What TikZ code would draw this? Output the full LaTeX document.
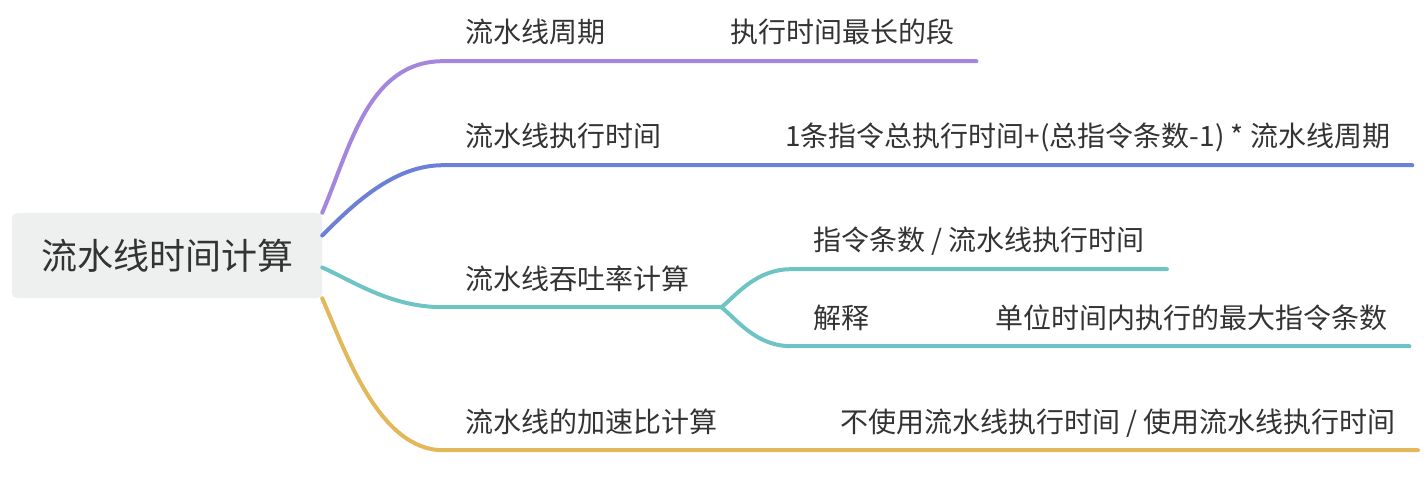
\documentclass[tikz,border=0pt]{standalone}
\usepackage{fontspec}
\setmainfont{Noto Sans CJK SC}
\definecolor{txtgray}{RGB}{51,51,51}
\definecolor{rootfill}{RGB}{238,240,240}
\definecolor{brpurple}{RGB}{164,134,220}
\definecolor{brblue}{RGB}{108,128,216}
\definecolor{brteal}{RGB}{110,196,196}
\definecolor{brgold}{RGB}{226,184,90}

\begin{document}
\begin{tikzpicture}[
      x=1pt, y=-1pt,
      root/.style ={rounded corners=5pt, fill=rootfill, text=txtgray,
                    minimum width=310pt, minimum height=85pt, inner sep=0pt,
                    font=\fontsize{36pt}{42pt}\selectfont},
      topic/.style={anchor=base west, text=txtgray, inner xsep=22pt,
                    inner ysep=12pt, text depth=6pt,
                    font=\fontsize{28pt}{34pt}\selectfont},
      br/.style   ={line width=4pt, line cap=round}
    ]
    \useasboundingbox (0,0) rectangle (1426,494);
    % --- root ---
    \node[root] (root) at (167,255.5) {流水线时间计算};
    % --- main topics ---
    \node[topic] (cycle) at (443,43)  {流水线周期};
    \node[topic] (exec)  at (443,147) {流水线执行时间};
    \node[topic] (tput)  at (443,289) {流水线吞吐率计算};
    \node[topic] (speed) at (443,432) {流水线的加速比计算};
    % --- sub topics ---
    \node[topic] (longest) at (708,43)  {执行时间最长的段};
    \node[topic] (execf)   at (763,147) {1条指令总执行时间+(总指令条数-1) * 流水线周期};
    \node[topic] (tputf)   at (791,251) {指令条数 / 流水线执行时间};
    \node[topic] (expl)    at (791,328) {解释};
    \node[topic] (meaning) at (973,328) {单位时间内执行的最大指令条数};
    \node[topic] (speedf)  at (818,432) {不使用流水线执行时间 / 使用流水线执行时间};
    % --- branches ---
    \draw[br, brpurple] (root.north east) .. controls +(28,-65) and +(-75,0)
      .. (cycle.south west) -- (longest.south east);
    \draw[br, brblue] ([yshift=20pt]root.east) .. controls +(30,-30) and +(-50,0)
      .. (exec.south west) -- (execf.south east);
    \draw[br, brteal] ([yshift=-12pt]root.east) .. controls +(30,13) and +(-53,0)
      .. (tput.south west) -- (tput.south east) -- +(10,0) coordinate (fork);
    \draw[br, brteal] (fork) .. controls +(15,-12) and +(-35,0)
      .. (tputf.south west) -- (tputf.south east);
    \draw[br, brteal] (fork) .. controls +(15,12) and +(-35,0)
      .. (expl.south west) -- (meaning.south east);
    \draw[br, brgold] (root.south east) .. controls +(22,50) and +(-65,0)
      .. (speed.south west) -- (speedf.south east);
  \end{tikzpicture}
\end{document}
